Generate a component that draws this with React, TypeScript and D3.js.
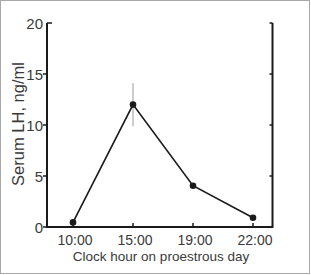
import React from "react"
import * as d3 from "d3"

// serum LH over the proestrous day
const hours = ["10:00", "15:00", "19:00", "22:00"]
const lhMean = [0.45, 12.0, 4.05, 0.9]
const lhErr = [0, 2.1, 0, 0]
const yTicks = [0, 5, 10, 15, 20]

const W = 311
const H = 275

export default function App() {
  const x = d3.scalePoint<string>().domain(hours).range([73, 253])
  const y = d3.scaleLinear().domain([0, 20]).range([227, 23])
  const left = 47
  const right = 272.5

  const line = d3.line<number>()
    .x((d, i) => x(hours[i]) as number)
    .y(d => y(d))

  const ink = "#1a1a1a"
  const txt = "#3a3a3a"
  const font = "'Liberation Sans', Arial, sans-serif"

  return (
    <svg width={W} height={H} style={{ position: "absolute", left: 0, top: 0 }}
      fontFamily={font}>
      <rect x={0} y={0} width={W} height={H} fill="#fff" />
      <rect x={0.5} y={0.5} width={309} height={273} fill="none" stroke="#a8a8a8" />

      {/* error bars */}
      {lhMean.map((m, i) => lhErr[i] > 0 && (
        <line key={"e" + i} x1={x(hours[i])} x2={x(hours[i])}
          y1={y(m - lhErr[i])} y2={y(m + lhErr[i])} stroke="#9a9a9a" strokeWidth={1} />
      ))}

      {/* axes */}
      <path d={`M${left},${y(20)}V${y(0)}H${right}V${y(20)}`} fill="none" stroke={ink} strokeWidth={2} />
      {yTicks.map(t => (
        <g key={"t" + t}>
          {t === 20
            ? <line x1={left} x2={left + 5} y1={y(t)} y2={y(t)} stroke={ink} strokeWidth={1.5} />
            : <line x1={left - 4} x2={left} y1={y(t)} y2={y(t)} stroke={ink} strokeWidth={1.5} />}
          <line x1={right - 3} x2={right} y1={y(t)} y2={y(t)} stroke={ink} strokeWidth={1.5} />
          <text x={left - 4} y={y(t) + 5.5} textAnchor="end" fontSize={15} fill={txt}>{t}</text>
        </g>
      ))}
      {hours.map(h => (
        <g key={h}>
          <line x1={x(h)} x2={x(h)} y1={y(0)} y2={y(0) - 4} stroke={ink} strokeWidth={1.5} />
          <text x={(x(h) as number) + 2} y={245} textAnchor="middle" fontSize={14} fill={txt}>{h}</text>
        </g>
      ))}

      {/* series */}
      <path d={line(lhMean) || ""} fill="none" stroke={ink} strokeWidth={1.6} />
      {lhMean.map((m, i) => (
        <circle key={"p" + i} cx={x(hours[i])} cy={y(m)} r={3.3} fill={ink} />
      ))}

      <text x={161} y={261} textAnchor="middle" fontSize={13.5} fill={txt}>Clock hour on proestrous day</text>
      <text transform={`translate(24,124) rotate(-90)`} textAnchor="middle" fontSize={16.5} fill={txt}>Serum LH, ng/ml</text>
    </svg>
  )
}
